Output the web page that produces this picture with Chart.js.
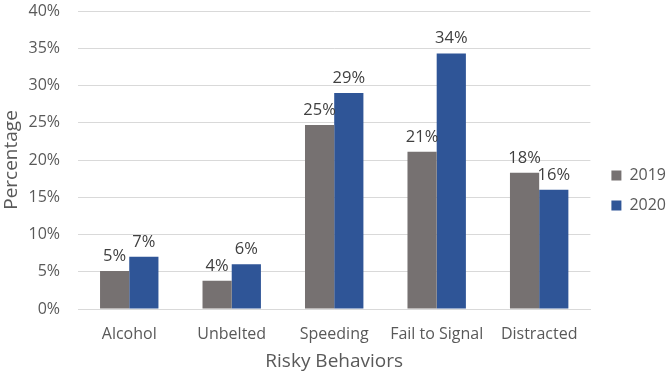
<!DOCTYPE html>
<html>
<head>
<meta charset="utf-8">
<script src="https://cdn.jsdelivr.net/npm/chart.js@4.4.0/dist/chart.umd.min.js"></script>
<style>
  html, body { margin: 0; padding: 0; background: #ffffff; }
  #wrap { width: 669px; height: 375px; }
</style>
</head>
<body>
<div id="wrap"><canvas id="RiskChart" width="669" height="375"></canvas></div>
<script>
(function () {
  "use strict";

  // Data
  const categories = ['Alcohol', 'Unbelted', 'Speeding', 'Fail to Signal', 'Distracted'];
  const values_2019 = [5.1, 3.8, 24.7, 21.1, 18.3];
  const values_2020 = [7.0, 6.0, 29.0, 34.3, 16.0];
  const series_labels = ['2019', '2020'];

  // Colors
  const gray_bar   = '#767171';
  const blue_bar   = '#2F5597';
  const text_color = '#595959';
  const grid_color = '#d9d9d9';
  const font_name  = "'Open Sans', 'Noto Sans', sans-serif";

  // value labels above each bar
  const barLabels = {
    id: 'barLabels',
    afterDatasetsDraw(chart) {
      const ctx = chart.ctx;
      ctx.save();
      ctx.font = '16.5px ' + font_name;
      ctx.fillStyle = '#404040';
      ctx.textAlign = 'center';
      ctx.textBaseline = 'alphabetic';
      chart.data.datasets.forEach((ds, i) => {
        const meta = chart.getDatasetMeta(i);
        meta.data.forEach((bar, j) => {
          ctx.fillText(Math.round(ds.data[j]) + '%', bar.x, bar.y - 10);
        });
      });
      ctx.restore();
    }
  };

  // nudge the legend a bit right/down, like the original
  const legendShift = {
    id: 'legendShift',
    afterLayout(chart) {
      const lg = chart.legend;
      if (!lg) return;
      lg.left += 7; lg.right += 7;
      lg.top += 4; lg.bottom += 4;
    }
  };

  const chart_el = document.getElementById('RiskChart');
  if (chart_el != null) {
    new Chart(chart_el.getContext('2d'), {
      type: 'bar',
      data: {
        labels: categories,
        datasets: [{
          label: series_labels[0],
          data: values_2019,
          backgroundColor: gray_bar,
          categoryPercentage: 0.57,
          barPercentage: 1.0
        }, {
          label: series_labels[1],
          data: values_2020,
          backgroundColor: blue_bar,
          categoryPercentage: 0.57,
          barPercentage: 1.0
        }]
      },
      options: {
        responsive: false,
        animation: false,
        layout: {
          padding: { top: 0, left: 0, right: 0, bottom: 2 }
        },
        scales: {
          x: {
            grid: { display: false, drawTicks: false },
            border: { color: grid_color },
            ticks: { color: text_color, font: { family: font_name, size: 16 }, padding: 16 },
            title: {
              display: true,
              text: 'Risky Behaviors',
              color: text_color,
              font: { family: font_name, size: 19 },
              padding: { top: 9, bottom: 0 }
            },
            afterFit(scale) {
              scale.height = 64;
            }
          },
          y: {
            min: 0,
            max: 40,
            ticks: {
              stepSize: 5,
              color: text_color,
              font: { family: font_name, size: 16 },
              padding: 18,
              callback: (v) => v + '%'
            },
            grid: { color: grid_color, drawTicks: false },
            border: { display: false },
            title: {
              display: true,
              text: 'Percentage',
              color: text_color,
              font: { family: font_name, size: 19 },
              padding: { top: 0, bottom: 0 }
            },
            afterFit(scale) {
              scale.width = 78;
              scale.paddingTop = 11;
              scale.paddingBottom = 0;
            }
          }
        },
        plugins: {
          legend: {
            position: 'right',
            labels: {
              color: text_color,
              font: { family: font_name, size: 16 },
              boxWidth: 10,
              boxHeight: 10,
              padding: 14
            }
          },
          tooltip: { enabled: false }
        }
      },
      plugins: [barLabels, legendShift]
    });
  }
})();
</script>
</body>
</html>
